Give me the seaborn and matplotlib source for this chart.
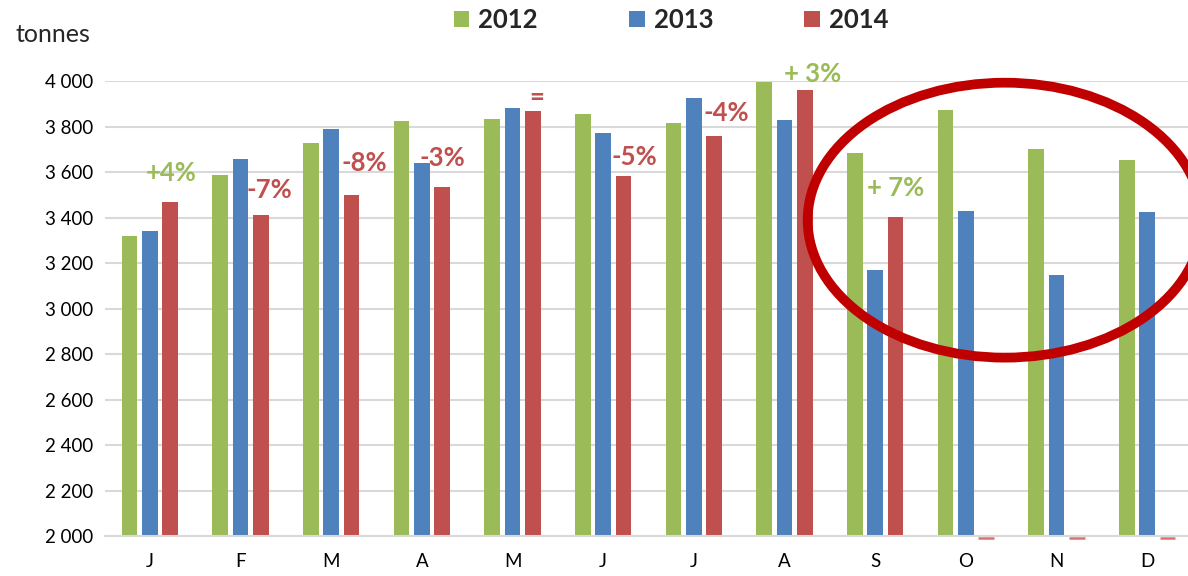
import pandas as pd
import numpy as np
import matplotlib.pyplot as plt
import seaborn as sns
from matplotlib.patches import Ellipse

months = ["J", "F", "M", "A", "M", "J", "J", "A", "S", "O", "N", "D"]
years = ["2012", "2013", "2014"]
tonnes_2012 = [3320, 3588, 3728, 3825, 3835, 3857, 3817, 3998, 3683, 3874, 3700, 3654]
tonnes_2013 = [3340, 3660, 3790, 3640, 3883, 3772, 3927, 3830, 3168, 3430, 3146, 3423]
tonnes_2014 = [3470, 3412, 3500, 3534, 3870, 3583, 3759, 3961, 3402, 0, 0, 0]
colors = ["#9BBB59", "#4F81BD", "#C0504D"]

# change labels: text, month position, height, colour index
change_text = ["+4%", "-7%", "-8%", "-3%", "=", "-5%", "-4%", "+ 3%", "+ 7%"]
change_x = [0.24, 1.32, 2.36, 3.23, 4.27, 5.34, 6.36, 7.31, 8.23]
change_y = [3596, 3521, 3640, 3662, 3930, 3666, 3859, 4031, 3530]
change_col = [0, 2, 2, 2, 2, 2, 2, 0, 0]

df = pd.DataFrame({
    "pos": [f"{i:02d}" for i in range(12)] * 3,
    "year": np.repeat(years, 12),
    "tonnes": tonnes_2012 + tonnes_2013 + tonnes_2014,
})

sns.set_theme(style="white")
plt.rcParams["font.family"] = ["Lato", "DejaVu Sans"]

fig = plt.figure(figsize=(11.88, 5.76), dpi=100)
ax = fig.add_axes([0.088, 0.0694, 0.912, 0.7896])

sns.barplot(data=df, x="pos", y="tonnes", hue="year", palette=colors,
            width=0.67, gap=0.23, saturation=1, ax=ax, errorbar=None,
            linewidth=0)

ax.set_ylim(2000, 4000)
ax.set_xlim(-0.5, 11.45)
ax.set_yticks(range(2000, 4001, 200))
ax.set_yticklabels([f"{v // 1000} {v % 1000:03d}" for v in range(2000, 4001, 200)])
ax.set_xticks(range(12))
ax.set_xticklabels(months)
ax.tick_params(axis="both", length=0, labelsize=13.5, labelcolor="#000000")
ax.tick_params(axis="x", pad=12)
ax.tick_params(axis="y", pad=8)
ax.set_xlabel("")
ax.set_ylabel("")
ax.grid(axis="y", color="#D9D9D9", linewidth=1.5)
ax.set_axisbelow(True)
for s in ["left", "right", "top"]:
    ax.spines[s].set_visible(False)
ax.spines["bottom"].set_color("#D9D9D9")
ax.spines["bottom"].set_linewidth(1.5)

# zero 2014 months drawn as a thin dash at the baseline, like the source
for p in ax.patches:
    if p.get_height() == 0 and p.get_width() > 0:
        p.set_visible(False)
        x0 = p.get_x()
        ax.plot([x0, x0 + p.get_width()], [1993, 1993], color="#E07070",
                lw=1.8, clip_on=False, solid_capstyle="butt", zorder=3)

for t, x, y, c in zip(change_text, change_x, change_y, change_col):
    ax.text(x, y, t, color=colors[c], fontsize=18.5, fontweight="bold",
            ha="center", va="center")

ax.add_patch(Ellipse((9.43, 3389), 4.35, 1209, fill=False, edgecolor="#C00000",
                     linewidth=7, clip_on=False))

fig.text(0.013, 0.94, "tonnes", fontsize=18, ha="left", va="center")

sns.move_legend(ax, "center", bbox_to_anchor=(0.565, 0.965), bbox_transform=fig.transFigure,
                ncol=3, frameon=False, title=None, handlelength=0.6, handleheight=0.6,
                handletextpad=0.35, columnspacing=3.55,
                prop={"weight": "bold", "size": 18.5})

fig.savefig("out.png", dpi=100)
